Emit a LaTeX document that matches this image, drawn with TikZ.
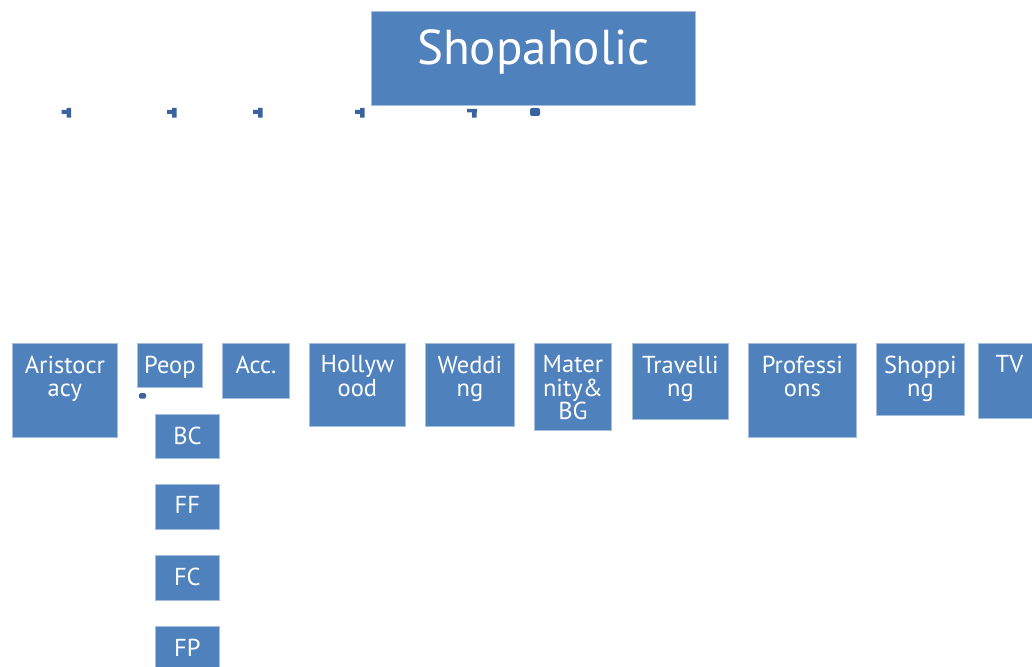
\documentclass[tikz,border=0pt]{standalone}
\usepackage{fontspec}
\setmainfont{PT Sans}
\definecolor{boxblue}{HTML}{4F81BD}
\definecolor{boxedge}{HTML}{A7BFDE}
\definecolor{connblue}{HTML}{3A62A0}
\tikzset{
  box/.style 2 args={draw=boxedge, line width=0.8pt, fill=boxblue, minimum width=#1pt, minimum height=#2pt, anchor=north west, inner sep=0pt},
  lbl/.style={text=white, font=\fontsize{24.5}{23.5}\selectfont, align=center, anchor=north, inner sep=0pt},
  stub/.style={fill=connblue}
}
\newcommand\bx[6]{\node[box={#4}{#5}] (#1) at (#2,#3) {}; \node[lbl] (#1-t) at ([yshift=-12.5pt]#1.north) {#6};}
\begin{document}
\begin{tikzpicture}[x=1pt,y=-1pt]
\useasboundingbox (0,0) rectangle (1032,666);
\clip (0,0) rectangle (1032,666);
% root
\node[box={324}{94}] (root) at (371,11) {};
\node[lbl, font=\fontsize{49}{49}\selectfont] (root-t) at ([yshift=-18.5pt]root.north) {Shopaholic};
% broken connector stubs
\coordinate (s1) at (66.5,108);
\coordinate (s2) at (172,108);
\coordinate (s3) at (258,108);
\coordinate (s4) at (360,108);
\coordinate (s5) at (472,109);
\coordinate (s6) at (530,108);
\foreach \s in {s1,s2,s3,s4}{
  \fill[stub] (\s) rectangle ++(4.5,9.5) (\s) ++(-5,2) rectangle ++(5,4);
}
\fill[stub] (s5) ++(-5,0) rectangle ++(10,3.5) (s5) ++(0,3) rectangle ++(4.5,5.5);
\fill[stub, rounded corners=2pt] (s6) rectangle ++(10,8);
% row boxes
\bx{aris}{12}{343}{105}{94}{Aristocr\\acy}
\bx{peop}{137}{343}{65}{44}{Peop}
\bx{acc}{222}{343}{67}{55}{Acc.}
\bx{holly}{309}{343}{96}{83}{Hollyw\\ood}
\bx{wed}{425}{343}{89}{83}{Weddi\\ng}
\bx{mat}{534}{343}{77}{87}{Mater\\nity\&\\BG}
\bx{trav}{632}{343}{96}{76}{Travelli\\ng}
\bx{prof}{748}{343}{108}{94}{Professi\\ons}
\bx{shop}{876}{343}{88}{72}{Shoppi\\ng}
\bx{tv}{978}{343}{62}{75}{TV}
% sub boxes under Peop
\coordinate (pdot) at (139,393);
\fill[stub, rounded corners=1.5pt] (pdot) rectangle ++(7,5.5);
\bx{bc}{155}{414}{64}{44}{BC}
\bx{ff}{155}{484}{64}{45}{FF}
\bx{fc}{155}{555}{64}{45}{FC}
\bx{fp}{155}{626}{64}{50}{FP}
\end{tikzpicture}
\end{document}
